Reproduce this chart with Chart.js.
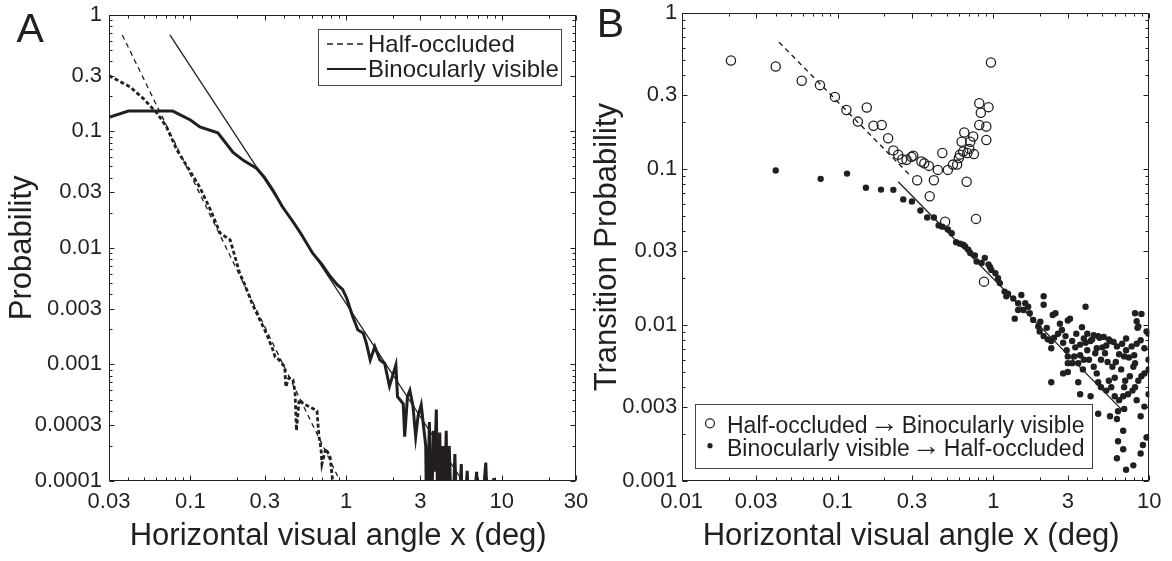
<!DOCTYPE html>
<html>
<head>
<meta charset="utf-8">
<script src="https://cdn.jsdelivr.net/npm/chart.js@4.4.1/dist/chart.umd.min.js"></script>
<style>
  body { margin: 0; background: #fff; }
  #wrap { position: relative; width: 1172px; height: 561px; overflow: hidden; }
  canvas { position: absolute; top: 0; }
</style>
</head>
<body>
<div id="wrap">
  <canvas id="chartA" width="620" height="561" style="left:0"></canvas>
  <canvas id="chartB" width="586" height="561" style="left:586px"></canvas>
</div>
<script>
// ---- panel A: probability of run lengths ----
const aTicksX = [0.03, 0.1, 0.3, 1, 3, 10, 30];
const aTicksY = [0.0001, 0.0003, 0.001, 0.003, 0.01, 0.03, 0.1, 0.3, 1];

const halfOccX = [0.03, 0.041, 0.05, 0.061, 0.07, 0.082, 0.1, 0.115, 0.135, 0.155, 0.18, 0.207, 0.224, 0.25, 0.28, 0.31,
  0.339, 0.35, 0.37, 0.404, 0.41, 0.43, 0.456, 0.47, 0.48, 0.5, 0.53, 0.59, 0.65, 0.67, 0.69, 0.7, 0.74, 0.79, 0.82, 0.86];
const halfOccY = [0.30, 0.24, 0.19, 0.143, 0.11, 0.069, 0.045, 0.033, 0.021, 0.0134, 0.0117, 0.0061, 0.0048, 0.0033, 0.0024, 0.0018,
  0.00133, 0.00116, 0.0011, 0.00095, 0.00064, 0.00077, 0.00074, 0.00058, 0.00027, 0.0005, 0.00046, 0.00043, 0.0004, 0.00024, 0.00019, 0.00014, 0.00019, 0.00016, 0.0001, 0.00006];

const binoX = [0.03, 0.04, 0.077, 0.1, 0.115, 0.15, 0.188, 0.22, 0.267, 0.3, 0.34, 0.39, 0.46, 0.51, 0.61, 0.7, 0.79, 0.88, 0.95, 1.01,
  1.1, 1.19, 1.29, 1.35, 1.43, 1.53, 1.65, 1.77, 1.9, 2.09, 2.14, 2.33, 2.38, 2.48, 2.57, 2.69, 2.8, 2.9, 3.04, 3.17,
  3.25, 3.3, 3.43, 3.53, 3.63, 3.7, 3.8, 3.9, 4.0, 4.1, 4.2, 4.3, 4.4, 4.5, 4.6, 4.8, 5.0, 5.2, 5.5, 5.6, 6.0, 6.3,
  6.9, 7.2, 7.9, 8.2, 8.9, 9.5];
const binoY = [0.132, 0.149, 0.149, 0.125, 0.109, 0.097, 0.066, 0.056, 0.048, 0.040, 0.031, 0.0225, 0.0165, 0.0134, 0.009, 0.0072, 0.0057, 0.0048, 0.0044, 0.0037,
  0.0026, 0.00198, 0.00185, 0.00152, 0.00109, 0.00142, 0.00109, 0.00102, 0.00065, 0.00099, 0.00053, 0.00046, 0.00024, 0.00053, 0.0006, 0.00044, 0.00024, 0.00036, 0.00045, 0.00027,
  0.0002, 0.00003, 0.00032, 0.00003, 0.00027, 0.00012, 0.00041, 0.00003, 0.00026, 0.00003, 0.0002, 0.00008, 0.00027, 0.00003, 0.0002, 0.00003, 0.00017, 0.00003, 0.00014, 0.00003, 0.000122, 0.00003,
  0.00012, 0.00003, 0.000144, 0.00003, 0.000106, 0.00003];

// power-law fits (straight lines on log-log axes)
const fitHalfAX = [0.0365, 0.915], fitHalfAY = [0.67, 0.0001];
const fitBinoAX = [0.0738, 5.6], fitBinoAY = [0.67, 0.0001];

// ---- panel B: transition probabilities ----
const bTicksX = [0.01, 0.03, 0.1, 0.3, 1, 3, 10];
const bTicksY = [0.001, 0.003, 0.01, 0.03, 0.1, 0.3, 1];

const hoToBvX = [0.0207, 0.0401, 0.0589, 0.0771, 0.0962, 0.114, 0.135, 0.154, 0.17, 0.192, 0.211, 0.228, 0.245, 0.26, 0.277, 0.298, 0.306,
  0.324, 0.345, 0.36, 0.385, 0.39, 0.415, 0.44, 0.47, 0.49, 0.51, 0.55, 0.585, 0.6, 0.61, 0.625, 0.64, 0.65, 0.673, 0.68, 0.7,
  0.71, 0.742, 0.75, 0.773, 0.811, 0.811, 0.83, 0.87, 0.9, 0.9, 0.93, 0.964];
const hoToBvY = [0.498, 0.456, 0.369, 0.346, 0.291, 0.24, 0.202, 0.249, 0.19, 0.192, 0.158, 0.132, 0.124, 0.116, 0.115, 0.12, 0.122,
  0.085, 0.112, 0.109, 0.105, 0.067, 0.085, 0.099, 0.127, 0.046, 0.099, 0.107, 0.107, 0.118, 0.124, 0.15, 0.13, 0.172, 0.083, 0.127, 0.135,
  0.15, 0.162, 0.125, 0.048, 0.192, 0.265, 0.23, 0.019, 0.188, 0.154, 0.25, 0.483];

const bvToHoX = [0.0401, 0.0779, 0.115, 0.152, 0.19, 0.228, 0.264, 0.30, 0.34, 0.376,
  0.415, 0.445, 0.47, 0.51, 0.54, 0.576, 0.61, 0.64, 0.658, 0.69,
  0.71, 0.76, 0.78, 0.84, 0.88, 0.93, 0.95, 0.97, 1.03, 1.07,
  1.1, 1.18, 1.21, 1.24, 1.34, 1.37, 1.44, 1.44, 1.51, 1.56,
  1.6, 1.67, 1.71, 1.8, 1.94, 1.98, 2.0, 2.1, 2.1, 2.1,
  2.2, 2.23, 2.35, 2.35, 2.35, 2.4, 2.5, 2.6, 2.67, 2.75,
  2.8, 2.8, 2.9, 2.95, 3.0, 3.0, 3.0, 3.0, 3.1, 3.2,
  3.2, 3.3, 3.4, 3.5, 3.5, 3.6, 3.6, 3.6, 3.7, 3.8,
  3.8, 3.9, 3.9, 4.0, 4.0, 4.1, 4.2, 4.2, 4.4, 4.4,
  4.5, 4.6, 4.6, 4.7, 4.7, 4.7, 4.9, 4.9, 5.0, 5.1,
  5.2, 5.3, 5.4, 5.5, 5.5, 5.6, 5.7, 5.8, 5.9, 6.0,
  6.0, 6.2, 6.2, 6.2, 6.3, 6.3, 6.4, 6.4, 6.6, 6.8,
  6.8, 6.8, 6.9, 6.9, 6.9, 7.0, 7.1, 7.1, 7.1, 7.3,
  7.5, 7.7, 7.8, 7.9, 7.9, 8.0, 8.1, 8.1, 8.1, 8.3,
  8.3, 8.3, 8.4, 8.5, 8.5, 8.8, 8.8, 8.8, 8.9, 8.9,
  9.1, 9.3, 9.3, 9.3, 9.6, 9.6, 9.9, 9.9, 9.9, 9.9,
  2.45, 3.35, 3.75, 4.3, 4.8, 5.3, 5.6, 6.1, 6.7, 7.4];
const bvToHoY = [0.098, 0.0867, 0.0937, 0.076, 0.074, 0.0737, 0.064, 0.062, 0.0543, 0.049,
  0.049, 0.0436, 0.0428, 0.041, 0.0388, 0.034, 0.0333, 0.0328, 0.032, 0.0305,
  0.029, 0.028, 0.0256, 0.025, 0.027, 0.0245, 0.0236, 0.0226, 0.0215, 0.02,
  0.0186, 0.0164, 0.0153, 0.0159, 0.0148, 0.011, 0.0138, 0.0125, 0.0156, 0.0125,
  0.0138, 0.0131, 0.0119, 0.0108, 0.0098, 0.0091, 0.0105, 0.0153, 0.0135, 0.0085,
  0.0096, 0.0081, 0.0079, 0.0071, 0.0043, 0.0116, 0.0119, 0.0088, 0.0102, 0.0093,
  0.0077, 0.0049, 0.0085, 0.0069, 0.0107, 0.0063, 0.0057, 0.005, 0.011, 0.0057,
  0.0079, 0.0063, 0.0088, 0.0057, 0.0043, 0.0064, 0.0075, 0.0036, 0.0097, 0.006,
  0.0082, 0.0131, 0.0077, 0.0088, 0.0069, 0.006, 0.0035, 0.0079, 0.0086, 0.0054,
  0.0066, 0.0071, 0.0049, 0.0085, 0.0043, 0.0027, 0.006, 0.004, 0.0072, 0.0084,
  0.0066, 0.0038, 0.0058, 0.0081, 0.0044, 0.0026, 0.004, 0.0054, 0.0078, 0.0035,
  0.0046, 0.0073, 0.0025, 0.0014, 0.0028, 0.0018, 0.0065, 0.0033, 0.0052, 0.0035,
  0.0021, 0.0016, 0.004, 0.0029, 0.0063, 0.0044, 0.0082, 0.0069, 0.00118, 0.0036,
  0.0047, 0.0073, 0.0038, 0.0054, 0.00126, 0.0064, 0.0119, 0.0057, 0.004, 0.0106,
  0.0076, 0.0033, 0.0096, 0.0044, 0.0098, 0.008, 0.0026, 0.0015, 0.0118, 0.0047,
  0.0017, 0.0071, 0.0049, 0.003, 0.0019, 0.0091, 0.0088, 0.006, 0.0036, 0.0052,
  0.0083, 0.0072, 0.0052, 0.0081, 0.0083, 0.0074, 0.0079, 0.0058, 0.0076, 0.0062];

const fitHoBX = [0.0421, 0.29], fitHoBY = [0.653, 0.092];
const fitBvBX = [0.245, 6.7], fitBvBY = [0.083, 0.00285];

// ---- shared look ----
const FONT = "'Liberation Sans', Arial, Helvetica, sans-serif";
const INK = '#231f20';
Chart.defaults.font.family = FONT;
Chart.defaults.color = INK;

const pairs = (xs, ys) => xs.map((x, i) => ({x, y: ys[i]}));

function logSteps(min, max) {
  const out = [];
  for (let e = Math.floor(Math.log10(min)); e <= Math.ceil(Math.log10(max)); e++) {
    for (let k = 1; k <= 9; k++) {
      const v = k * Math.pow(10, e);
      if (v >= min * 0.999 && v <= max * 1.001) out.push(v);
    }
  }
  return out;
}

function xAxis(min, max, vals) {
  return {
    type: 'logarithmic', position: 'bottom', min, max,
    grid: {display: false, drawTicks: false}, border: {display: false},
    afterBuildTicks: s => { s.ticks = vals.map(v => ({value: v})); },
    ticks: {padding: 8, autoSkip: false, maxRotation: 0, font: {size: 22}, callback: v => String(v)},
    // trailing space nudges the centred title a few px left, as in the figure
    title: {display: true, text: 'Horizontal visual angle x (deg) ', font: {size: 31}, padding: {top: 0, bottom: 6}},
    afterFit: s => { s.height = 80; s.paddingLeft = 0; s.paddingRight = 0; }
  };
}

function yAxis(min, max, vals, title, width, labelPad, titlePad) {
  return {
    type: 'logarithmic', position: 'left', min, max,
    grid: {display: false, drawTicks: false}, border: {display: false},
    afterBuildTicks: s => { s.ticks = vals.map(v => ({value: v})); },
    ticks: {padding: labelPad, autoSkip: false, font: {size: 22}, callback: v => String(v)},
    title: {display: true, text: title, font: {size: 31}, padding: {top: titlePad, bottom: 0}},
    afterFit: s => { s.width = width; s.paddingTop = 0; s.paddingBottom = 0; }
  };
}

// box with inward ticks on all four sides, MATLAB style
const frame = {
  id: 'frame',
  afterDatasetsDraw(chart) {
    const {ctx, chartArea: a, scales: {x, y}} = chart;
    const L = Math.round(a.left) + 0.5, R = Math.round(a.right) - 0.5;
    const T = Math.round(a.top) + 0.5, B = Math.round(a.bottom) - 0.5;
    const isMajor = (s, v) => s.ticks.some(t => Math.abs(t.value / v - 1) < 1e-6);
    ctx.save();
    ctx.strokeStyle = INK;
    ctx.lineWidth = 1;
    ctx.strokeRect(L, T, R - L, B - T);
    ctx.beginPath();
    for (const v of logSteps(x.min, x.max)) {
      const p = Math.round(x.getPixelForValue(v)) + 0.5;
      const len = isMajor(x, v) ? 5 : 3;
      ctx.moveTo(p, B); ctx.lineTo(p, B - len);
      ctx.moveTo(p, T); ctx.lineTo(p, T + len);
    }
    for (const v of logSteps(y.min, y.max)) {
      const p = Math.round(y.getPixelForValue(v)) + 0.5;
      const len = isMajor(y, v) ? 5 : 3;
      ctx.moveTo(L, p); ctx.lineTo(L + len, p);
      ctx.moveTo(R, p); ctx.lineTo(R - len, p);
    }
    ctx.stroke();
    ctx.restore();
  }
};

function seg(ctx, x1, y1, x2, y2) {
  ctx.beginPath(); ctx.moveTo(x1, y1); ctx.lineTo(x2, y2); ctx.stroke();
}

const legendA = {
  id: 'legendA',
  afterDraw(chart) {
    const ctx = chart.ctx;
    ctx.save();
    ctx.fillStyle = '#fff';
    ctx.fillRect(318.5, 29.5, 243, 56);
    ctx.strokeStyle = '#444'; ctx.lineWidth = 1;
    ctx.strokeRect(318.5, 29.5, 243, 56);
    ctx.strokeStyle = INK;
    ctx.lineWidth = 1.5; ctx.setLineDash([6, 4]);
    seg(ctx, 327, 44, 366, 44);
    ctx.setLineDash([]); ctx.lineWidth = 2;
    seg(ctx, 327, 69, 366, 69);
    ctx.fillStyle = INK;
    ctx.textBaseline = 'alphabetic';
    ctx.font = '24px ' + FONT;
    ctx.fillText('Half-occluded', 368, 52.3);
    ctx.fillText('Binocularly visible', 368, 77.3);
    ctx.font = '41px ' + FONT;
    ctx.fillText('A', 16.5, 41.7);
    ctx.restore();
  }
};

const legendB = {
  id: 'legendB',
  afterDraw(chart) {
    const ctx = chart.ctx;
    ctx.save();
    ctx.fillStyle = '#fff';
    ctx.fillRect(109.5, 404.5, 397, 64);
    ctx.strokeStyle = '#444'; ctx.lineWidth = 1;
    ctx.strokeRect(109.5, 404.5, 397, 64);
    ctx.strokeStyle = INK; ctx.lineWidth = 1.2;
    ctx.beginPath(); ctx.arc(124, 423.3, 4.5, 0, Math.PI * 2); ctx.stroke();
    ctx.fillStyle = INK;
    ctx.beginPath(); ctx.arc(124, 445.7, 2.6, 0, Math.PI * 2); ctx.fill();
    const rows = [['Half-occluded', 'Binocularly visible', 433.3], ['Binocularly visible', 'Half-occluded', 455.7]];
    ctx.textBaseline = 'alphabetic';
    for (const [from, to, base] of rows) {
      let x = 141;
      ctx.font = '23px ' + FONT;
      ctx.fillText(from, x, base);
      x += ctx.measureText(from).width + 2;
      ctx.font = '29px ' + FONT;
      ctx.fillText('\u2192', x, base - 1);
      x += ctx.measureText('\u2192').width + 3;
      ctx.font = '23px ' + FONT;
      ctx.fillText(to, x, base);
    }
    ctx.font = '41px ' + FONT;
    ctx.fillText('B', 10.7, 36.7);
    ctx.restore();
  }
};

// ---- chart A ----
new Chart(document.getElementById('chartA'), {
  type: 'line',
  data: {
    datasets: [
      {label: 'fit half', data: pairs(fitHalfAX, fitHalfAY), borderColor: INK, borderWidth: 1.3, borderDash: [5, 4], pointRadius: 0},
      {label: 'fit bino', data: pairs(fitBinoAX, fitBinoAY), borderColor: INK, borderWidth: 1.3, pointRadius: 0},
      {label: 'Half-occluded', data: pairs(halfOccX, halfOccY), borderColor: INK, borderWidth: 2.8, borderDash: [4, 2.5], pointRadius: 0},
      {label: 'Binocularly visible', data: pairs(binoX, binoY), borderColor: INK, borderWidth: 3, pointRadius: 0}
    ]
  },
  options: {
    responsive: false, animation: false, devicePixelRatio: 1, events: [],
    layout: {padding: {left: 0, right: 44, top: 14.7, bottom: 0}},
    plugins: {legend: {display: false}, tooltip: {enabled: false}},
    scales: {
      x: xAxis(0.03, 30, aTicksX),
      y: yAxis(0.0001, 1, aTicksY, 'Probability', 109, 7, 4)
    }
  },
  plugins: [frame, legendA]
});

// ---- chart B ----
new Chart(document.getElementById('chartB'), {
  type: 'scatter',
  data: {
    datasets: [
      {label: 'fit ho', data: pairs(fitHoBX, fitHoBY), showLine: true, borderColor: INK, borderWidth: 1.4, borderDash: [5, 4], pointRadius: 0},
      {label: 'fit bv', data: pairs(fitBvBX, fitBvBY), showLine: true, borderColor: INK, borderWidth: 1.3, pointRadius: 0},
      {label: 'Binocularly visible\u2192Half-occluded', data: pairs(bvToHoX, bvToHoY), pointRadius: 3.2, pointBorderWidth: 0, backgroundColor: INK, borderColor: INK},
      {label: 'Half-occluded\u2192Binocularly visible', data: pairs(hoToBvX, hoToBvY), pointRadius: 4.6, pointBorderWidth: 1.3, backgroundColor: 'rgba(0,0,0,0)', borderColor: INK}
    ]
  },
  options: {
    responsive: false, animation: false, devicePixelRatio: 1, events: [],
    layout: {padding: {left: 0, right: 22.7, top: 13.3, bottom: 0}},
    plugins: {legend: {display: false}, tooltip: {enabled: false}},
    scales: {
      x: xAxis(0.01, 10, bTicksX),
      y: yAxis(0.001, 1, bTicksY, 'Transition Probability', 95.7, 4.4, 2.7)
    }
  },
  plugins: [frame, legendB]
});
</script>
</body>
</html>
